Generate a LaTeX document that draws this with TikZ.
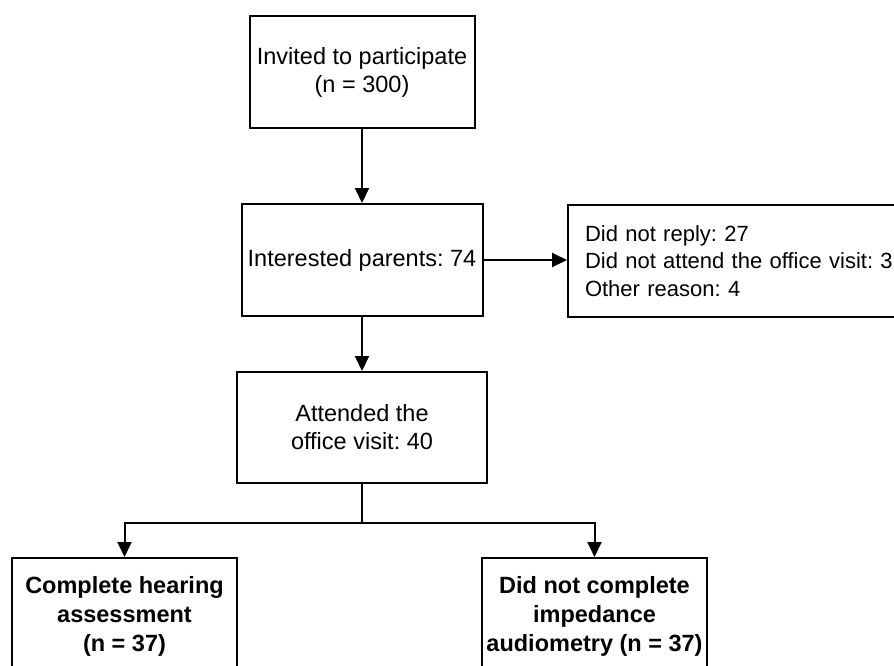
\documentclass[tikz,border=0pt]{standalone}
\usepackage{fontspec}
\setmainfont{Liberation Sans}
\usetikzlibrary{arrows.meta}
\frenchspacing
\begin{document}
\begin{tikzpicture}[x=1pt,y=-1pt,
  box/.style={draw, line width=2pt, rectangle, align=center, inner sep=2pt, font=\fontsize{23.5}{28}\selectfont},
  bbox/.style={box, font=\fontsize{23.5}{29}\selectfont\bfseries},
  arr/.style={line width=2pt, -{Triangle[width=14pt,length=15pt]}},
  ln/.style={line width=2pt}]
\useasboundingbox (0,0) rectangle (894,665);
\node[box, minimum width=225pt, minimum height=112pt] (b1) at (362,72) {Invited to participate\\(n = 300)};
\node[box, minimum width=241pt, minimum height=112pt] (b2) at (362,260) {Interested parents: 74};
\node[box, minimum width=250pt, minimum height=111pt] (b3) at (362,427.5) {Attended the\\office visit: 40};
\node[box, anchor=north west, align=left, text width=330pt, inner xsep=17pt, minimum height=112pt, font=\fontsize{22}{27.5}\selectfont] (r) at (567,204) {Did not reply: 27\\Did not attend the office visit: 3\\Other reason: 4};
\node[bbox, minimum width=225pt, minimum height=116pt] (b4) at (124.5,616) {Complete hearing\\assessment\\(n = 37)};
\node[bbox, minimum width=225pt, minimum height=116pt] (b5) at (594.5,616) {Did not complete\\impedance\\audiometry (n = 37)};
\draw[arr] (b1.south) -- (b2.north);
\draw[arr] (b2.south) -- (b3.north);
\draw[arr] (b2.east) -- (b2.east -| r.west);
\draw[ln] (b3.south) -- ++(0,39) coordinate (j);
\draw[arr] (j) -| (b4.north);
\draw[arr] (j) -| (b5.north);
\end{tikzpicture}
\end{document}
